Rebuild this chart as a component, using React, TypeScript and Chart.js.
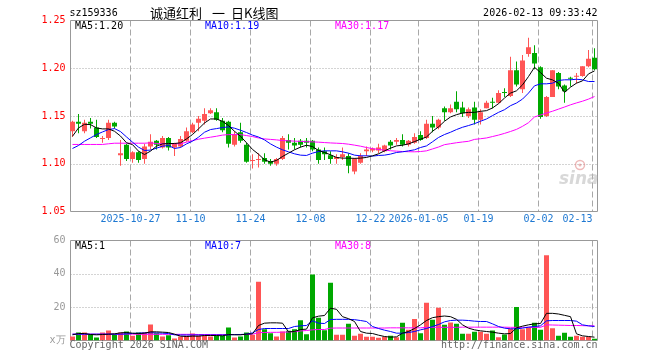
import { useEffect, useRef } from 'react';
import { Chart, registerables } from 'chart.js';

Chart.register(...registerables);

// ---- trading days shown (88 sessions) ----
const dates = [
  '2025-10-13', '2025-10-14', '2025-10-15', '2025-10-16', '2025-10-17',
  '2025-10-20', '2025-10-21', '2025-10-22', '2025-10-23', '2025-10-24',
  '2025-10-27', '2025-10-28', '2025-10-29', '2025-10-30', '2025-10-31',
  '2025-11-03', '2025-11-04', '2025-11-05', '2025-11-06', '2025-11-07',
  '2025-11-10', '2025-11-11', '2025-11-12', '2025-11-13', '2025-11-14',
  '2025-11-17', '2025-11-18', '2025-11-19', '2025-11-20', '2025-11-21',
  '2025-11-24', '2025-11-25', '2025-11-26', '2025-11-27', '2025-11-28',
  '2025-12-01', '2025-12-02', '2025-12-03', '2025-12-04', '2025-12-05',
  '2025-12-08', '2025-12-09', '2025-12-10', '2025-12-11', '2025-12-12',
  '2025-12-15', '2025-12-16', '2025-12-17', '2025-12-18', '2025-12-19',
  '2025-12-22', '2025-12-23', '2025-12-24', '2025-12-25', '2025-12-26',
  '2025-12-29', '2025-12-30', '2025-12-31',
  '2026-01-05', '2026-01-06', '2026-01-07', '2026-01-08', '2026-01-09',
  '2026-01-12', '2026-01-13', '2026-01-14', '2026-01-15', '2026-01-16',
  '2026-01-19', '2026-01-20', '2026-01-21', '2026-01-22', '2026-01-23',
  '2026-01-26', '2026-01-27', '2026-01-28', '2026-01-29', '2026-01-30',
  '2026-02-02', '2026-02-03', '2026-02-04', '2026-02-05', '2026-02-06',
  '2026-02-09', '2026-02-10', '2026-02-11', '2026-02-12', '2026-02-13',
];

// dates that carry an axis label and a dashed guide line
const axisDates = ['2025-10-27', '2025-11-10', '2025-11-24', '2025-12-08', '2025-12-22', '2026-01-05', '2026-01-19', '2026-02-02', '2026-02-13'];
const axisLabels = ['2025-10-27', '11-10', '11-24', '12-08', '12-22', '2026-01-05', '01-19', '02-02', '02-13'];

// ---- daily OHLC ----
const openP = [
  1.134, 1.144, 1.134, 1.144, 1.138, 1.126, 1.127, 1.143, 1.109, 1.120,
  1.105, 1.112, 1.105, 1.118, 1.124, 1.117, 1.127, 1.117, 1.118, 1.124,
  1.133, 1.143, 1.145, 1.153, 1.154, 1.145, 1.144, 1.120, 1.133, 1.120,
  1.103, 1.104, 1.106, 1.103, 1.100, 1.105, 1.125, 1.122, 1.124, 1.124,
  1.124, 1.115, 1.113, 1.109, 1.105, 1.107, 1.108, 1.092, 1.101, 1.113,
  1.114, 1.114, 1.113, 1.123, 1.123, 1.125, 1.120, 1.122, 1.130, 1.127,
  1.142, 1.138, 1.158, 1.154, 1.165, 1.159, 1.150, 1.159, 1.146, 1.158,
  1.165, 1.164, 1.175, 1.171, 1.198, 1.178, 1.215, 1.216, 1.201, 1.150,
  1.170, 1.195, 1.182, 1.190, 1.191, 1.192, 1.202, 1.211,
];
const highP = [
  1.145, 1.152, 1.146, 1.148, 1.146, 1.129, 1.146, 1.144, 1.125, 1.121,
  1.113, 1.113, 1.121, 1.131, 1.125, 1.129, 1.128, 1.122, 1.129, 1.138,
  1.143, 1.150, 1.158, 1.158, 1.158, 1.148, 1.145, 1.134, 1.143, 1.122,
  1.110, 1.111, 1.111, 1.105, 1.106, 1.129, 1.131, 1.127, 1.126, 1.127,
  1.125, 1.117, 1.117, 1.113, 1.110, 1.117, 1.111, 1.106, 1.111, 1.118,
  1.117, 1.121, 1.120, 1.125, 1.127, 1.131, 1.125, 1.132, 1.134, 1.146,
  1.150, 1.147, 1.160, 1.162, 1.176, 1.165, 1.159, 1.165, 1.157, 1.166,
  1.169, 1.177, 1.179, 1.212, 1.207, 1.214, 1.232, 1.224, 1.202, 1.171,
  1.198, 1.196, 1.183, 1.191, 1.195, 1.202, 1.219, 1.221,
];
const lowP = [
  1.128, 1.132, 1.132, 1.137, 1.127, 1.122, 1.125, 1.137, 1.098, 1.103,
  1.101, 1.101, 1.100, 1.115, 1.115, 1.116, 1.114, 1.108, 1.117, 1.123,
  1.132, 1.134, 1.141, 1.152, 1.145, 1.133, 1.117, 1.118, 1.122, 1.101,
  1.095, 1.096, 1.100, 1.098, 1.098, 1.104, 1.115, 1.115, 1.117, 1.117,
  1.113, 1.100, 1.104, 1.100, 1.100, 1.104, 1.090, 1.089, 1.100, 1.108,
  1.112, 1.111, 1.112, 1.115, 1.120, 1.118, 1.118, 1.121, 1.124, 1.126,
  1.133, 1.136, 1.145, 1.153, 1.154, 1.149, 1.148, 1.141, 1.141, 1.158,
  1.158, 1.163, 1.170, 1.170, 1.181, 1.174, 1.212, 1.199, 1.147, 1.149,
  1.170, 1.178, 1.164, 1.181, 1.184, 1.191, 1.201, 1.198,
];
const closeP = [
  1.144, 1.142, 1.143, 1.142, 1.128, 1.127, 1.143, 1.139, 1.111, 1.105,
  1.112, 1.104, 1.118, 1.123, 1.120, 1.127, 1.117, 1.121, 1.126, 1.134,
  1.141, 1.147, 1.152, 1.156, 1.146, 1.135, 1.121, 1.131, 1.124, 1.102,
  1.104, 1.105, 1.102, 1.100, 1.105, 1.127, 1.122, 1.119, 1.120, 1.122,
  1.115, 1.104, 1.110, 1.105, 1.107, 1.110, 1.098, 1.105, 1.108, 1.115,
  1.116, 1.117, 1.119, 1.119, 1.125, 1.120, 1.124, 1.128, 1.125, 1.142,
  1.138, 1.146, 1.154, 1.158, 1.157, 1.153, 1.157, 1.146, 1.154, 1.164,
  1.164, 1.174, 1.174, 1.198, 1.183, 1.208, 1.222, 1.205, 1.149, 1.170,
  1.198, 1.181, 1.176, 1.189, 1.192, 1.202, 1.210, 1.199,
];

// ---- price moving averages ----
const ma5 = [
  1.1288, 1.1375, 1.1413, 1.1410, 1.1375, 1.1365, 1.1365, 1.1340, 1.1290, 1.1220,
  1.1200, 1.1132, 1.1097, 1.1132, 1.1184, 1.1208, 1.1212, 1.1212, 1.1219, 1.1260,
  1.1306, 1.1365, 1.1427, 1.1469, 1.1469, 1.1444, 1.1400, 1.1340, 1.1288, 1.1220,
  1.1150, 1.1100, 1.1042, 1.1017, 1.1035, 1.1076, 1.1111, 1.1146, 1.1174, 1.1194,
  1.1180, 1.1139, 1.1118, 1.1094, 1.1066, 1.1059, 1.1059, 1.1056, 1.1059, 1.1066,
  1.1083, 1.1104, 1.1135, 1.1163, 1.1187, 1.1194, 1.1208, 1.1232, 1.1257, 1.1280,
  1.1340, 1.1386, 1.1445, 1.1490, 1.1514, 1.1531, 1.1538, 1.1538, 1.1549, 1.1556,
  1.1584, 1.1629, 1.1688, 1.1740, 1.1764, 1.1826, 1.1913, 1.2010, 1.1955, 1.1896,
  1.1878, 1.1844, 1.1747, 1.1802, 1.1844, 1.1868, 1.1941, 1.1972,
];
const ma10 = [
  1.1160, 1.1191, 1.1236, 1.1271, 1.1306, 1.1333, 1.1358, 1.1368, 1.1337, 1.1281,
  1.1226, 1.1174, 1.1139, 1.1143, 1.1163, 1.1184, 1.1191, 1.1160, 1.1170, 1.1208,
  1.1236, 1.1278, 1.1330, 1.1358, 1.1368, 1.1379, 1.1386, 1.1372, 1.1351, 1.1327,
  1.1300, 1.1280, 1.1250, 1.1208, 1.1174, 1.1146, 1.1125, 1.1104, 1.1090, 1.1087,
  1.1111, 1.1128, 1.1135, 1.1135, 1.1135, 1.1125, 1.1111, 1.1090, 1.1083, 1.1083,
  1.1080, 1.1087, 1.1090, 1.1101, 1.1118, 1.1125, 1.1135, 1.1146, 1.1170, 1.1187,
  1.1230, 1.1275, 1.1306, 1.1330, 1.1358, 1.1382, 1.1400, 1.1420, 1.1445, 1.1469,
  1.1504, 1.1538, 1.1566, 1.1608, 1.1636, 1.1677, 1.1740, 1.1816, 1.1837, 1.1837,
  1.1844, 1.1872, 1.1879, 1.1879, 1.1885, 1.1879, 1.1861, 1.1861,
];
const ma30 = [
  1.1202, 1.1202, 1.1202, 1.1202, 1.1202, 1.1202, 1.1209, 1.1215, 1.1215, 1.1215,
  1.1215, 1.1215, 1.1215, 1.1219, 1.1212, 1.1209, 1.1209, 1.1209, 1.1209, 1.1226,
  1.1243, 1.1257, 1.1268, 1.1278, 1.1288, 1.1300, 1.1305, 1.1305, 1.1305, 1.1295,
  1.1285, 1.1270, 1.1260, 1.1255, 1.1250, 1.1243, 1.1240, 1.1237, 1.1234, 1.1231,
  1.1229, 1.1226, 1.1222, 1.1218, 1.1215, 1.1212, 1.1205, 1.1195, 1.1184, 1.1170,
  1.1158, 1.1150, 1.1143, 1.1136, 1.1132, 1.1128, 1.1126, 1.1125, 1.1128, 1.1135,
  1.1155, 1.1175, 1.1200, 1.1210, 1.1220, 1.1228, 1.1235, 1.1255, 1.1262, 1.1270,
  1.1285, 1.1300, 1.1318, 1.1338, 1.1360, 1.1392, 1.1430, 1.1490, 1.1510, 1.1531,
  1.1550, 1.1572, 1.1594, 1.1617, 1.1637, 1.1655, 1.1677, 1.1704,
];

// ---- volume (x万) and its moving averages ----
const volume = [
  2.4, 4.8, 4.8, 3.8, 1.8, 4.8, 6.0, 3.8, 4.8, 5.4,
  2.8, 4.8, 4.8, 9.6, 4.4, 2.4, 3.2, 1.2, 2.4, 2.8,
  4.2, 2.8, 2.8, 2.4, 2.8, 2.8, 7.8, 1.8, 2.4, 4.8,
  3.4, 35.3, 6.8, 4.4, 2.4, 5.4, 5.8, 6.8, 12.2, 3.8,
  39.6, 13.7, 6.2, 34.7, 3.4, 3.4, 10.0, 2.8, 4.0, 2.2,
  2.2, 1.6, 2.2, 2.8, 2.0, 10.6, 6.4, 12.9, 4.4, 22.7,
  12.4, 19.7, 9.4, 10.8, 10.0, 4.0, 4.0, 5.2, 5.2, 4.0,
  6.0, 2.0, 3.6, 7.2, 20.1, 6.8, 8.0, 10.6, 6.4, 51.2,
  7.4, 2.8, 4.6, 2.2, 2.8, 2.2, 2.2, 1.0,
];
const volMa5 = [
  3.4, 4.2, 4.2, 3.6, 3.4, 3.6, 3.8, 4.0, 4.6, 4.8,
  4.4, 4.2, 4.4, 5.2, 5.2, 5.0, 4.8, 3.8, 2.6, 2.4,
  2.6, 2.6, 3.0, 3.0, 3.0, 2.8, 3.6, 3.4, 3.4, 3.8,
  4.0, 9.0, 10.4, 10.6, 10.6, 10.4, 5.2, 5.4, 6.6, 6.8,
  13.6, 14.6, 15.0, 19.4, 18.7, 14.3, 13.1, 11.4, 5.4, 4.4,
  4.2, 3.2, 2.4, 2.0, 2.2, 4.4, 5.4, 7.2, 9.4, 12.0,
  13.7, 14.3, 14.7, 14.3, 12.7, 9.4, 7.4, 6.4, 5.8, 5.4,
  5.0, 4.4, 4.0, 4.2, 7.6, 8.6, 9.4, 10.0, 10.2, 16.3,
  16.3, 15.9, 15.1, 14.3, 4.0, 2.8, 2.4, 2.0,
];
const volMa10 = [
  3.8, 3.8, 3.8, 3.8, 3.8, 3.8, 3.8, 3.8, 3.8, 4.0,
  4.2, 4.4, 4.6, 4.6, 4.6, 4.4, 4.2, 3.4, 3.3, 3.3,
  3.3, 3.3, 3.3, 3.3, 3.3, 3.3, 3.4, 3.6, 3.6, 3.8,
  4.6, 6.6, 7.2, 7.2, 7.2, 7.2, 7.2, 8.4, 8.8, 9.0,
  11.8, 10.4, 10.2, 12.6, 12.7, 12.7, 12.7, 12.5, 12.0, 11.4,
  8.4, 7.2, 6.2, 5.4, 4.4, 4.4, 4.8, 5.4, 6.4, 7.2,
  8.4, 9.6, 11.2, 12.0, 12.2, 12.2, 12.0, 11.6, 11.4, 11.4,
  10.0, 8.4, 7.4, 7.0, 7.0, 7.4, 8.0, 8.4, 8.8, 11.8,
  12.0, 12.0, 12.0, 12.0, 11.6, 9.4, 8.8, 8.4,
];
const volMa30 = [
  3.8, 3.8, 3.8, 3.8, 3.8, 3.8, 3.8, 3.8, 3.8, 3.8,
  3.8, 3.7, 3.7, 3.7, 3.7, 3.7, 3.7, 3.7, 3.7, 3.7,
  3.7, 3.6, 3.6, 3.6, 3.6, 3.6, 3.6, 3.6, 3.6, 3.6,
  3.8, 4.7, 4.8, 4.9, 4.9, 5.0, 5.1, 5.3, 5.7, 6.0,
  6.4, 6.6, 6.6, 7.4, 7.5, 7.5, 7.5, 7.5, 7.5, 7.5,
  7.5, 7.5, 7.5, 7.6, 7.6, 7.6, 7.6, 7.6, 7.6, 7.9,
  7.9, 7.9, 7.9, 7.9, 7.9, 8.0, 8.0, 8.0, 8.0, 8.0,
  8.0, 8.0, 8.0, 7.9, 7.9, 7.9, 7.9, 7.9, 7.9, 9.4,
  9.3, 9.2, 9.1, 9.0, 9.0, 8.9, 8.8, 8.8,
];

// ---- axis ticks ----
const priceTicks = [1.05, 1.1, 1.15, 1.2, 1.25];
const priceGridLines = [1.1, 1.15, 1.2];
const volumeTicks = [0, 20, 40, 60];
const volumeGridLines = [20, 40];
const volumeUnit = 'x万';

const UP = '#ff5555';
const DOWN = '#00a800';
const MONO = '"DejaVu Sans Mono", monospace';
const CJK = '"Noto Sans CJK SC", sans-serif';
const GRID = '#a8a8a8';
const FRAME = '#999999';

const candleColors = closeP.map((c, i) => (c >= openP[i] ? UP : DOWN));
const axisIndex = axisDates.map((d) => dates.indexOf(d));

function strokeLine(ctx: CanvasRenderingContext2D, x1: number, y1: number, x2: number, y2: number) {
  ctx.beginPath();
  ctx.moveTo(x1, y1);
  ctx.lineTo(x2, y2);
  ctx.stroke();
}

// dotted value lines, dashed date lines and the panel frame
function drawPanel(chart: any, hValues: number[]) {
  const { ctx, chartArea: a, scales } = chart;
  const left = Math.floor(a.left) + 1.5;
  const right = Math.floor(a.right) + 0.5;
  const top = Math.floor(a.top) + 0.5;
  const bottom = Math.floor(a.bottom) + 0.5;
  ctx.save();
  ctx.lineWidth = 1;
  ctx.strokeStyle = GRID;
  ctx.setLineDash([1, 2]);
  hValues.forEach((v) => {
    const y = Math.round(scales.y.getPixelForValue(v)) + 0.5;
    strokeLine(ctx, left, y, right, y);
  });
  ctx.setLineDash([6, 3]);
  axisIndex.forEach((idx) => {
    const x = Math.floor(scales.x.getPixelForValue(idx) - 2) + 0.5;
    strokeLine(ctx, x, top, x, bottom);
  });
  ctx.setLineDash([]);
  ctx.strokeStyle = FRAME;
  strokeLine(ctx, left, top, right, top);
  strokeLine(ctx, left, bottom, right, bottom);
  strokeLine(ctx, left, top, left, bottom);
  strokeLine(ctx, right, top, right, bottom);
  ctx.restore();
}

function text(ctx: CanvasRenderingContext2D, s: string, x: number, y: number, color: string, font: string, align: CanvasTextAlign = 'left') {
  ctx.font = font;
  ctx.fillStyle = color;
  ctx.textAlign = align;
  ctx.textBaseline = 'middle';
  ctx.fillText(s, x, y);
}

const pricePanel = {
  id: 'pricePanel',
  beforeDatasetsDraw(chart: any) {
    drawPanel(chart, priceGridLines);
    const { ctx } = chart;
    ctx.save();
    // sina watermark
    ctx.globalAlpha = 0.55;
    ctx.strokeStyle = '#e08080';
    ctx.lineWidth = 1.5;
    ctx.beginPath();
    ctx.arc(580, 165, 4.5, 0, Math.PI * 2);
    ctx.stroke();
    ctx.beginPath();
    ctx.arc(580, 165, 1.5, 0, Math.PI * 2);
    ctx.fillStyle = '#e08080';
    ctx.fill();
    ctx.font = 'italic bold 17px "DejaVu Sans", sans-serif';
    ctx.fillStyle = '#b8b8b8';
    ctx.textAlign = 'left';
    ctx.textBaseline = 'alphabetic';
    ctx.fillText('sina', 559, 184);
    ctx.restore();
  },
  afterDraw(chart: any) {
    const { ctx } = chart;
    ctx.save();
    const f = `10px ${MONO}`;
    text(ctx, 'sz159336', 69.5, 13, '#000', f);
    const cf = `13px ${CJK}`;
    text(ctx, '诚通红利', 150, 13, '#000', cf);
    text(ctx, '一', 212, 13, '#000', cf);
    text(ctx, '日K线图', 231, 13, '#000', cf);
    text(ctx, '2026-02-13 09:33:42', 597.5, 13, '#000', f, 'right');
    text(ctx, 'MA5:1.20', 75, 26.5, '#000000', f);
    text(ctx, 'MA10:1.19', 205, 26.5, '#0000ff', f);
    text(ctx, 'MA30:1.17', 335, 26.5, '#ff00ff', f);
    ctx.restore();
  },
};

const volumePanel = {
  id: 'volumePanel',
  beforeDatasetsDraw(chart: any) {
    drawPanel(chart, volumeGridLines);
  },
  afterDraw(chart: any) {
    const { ctx } = chart;
    ctx.save();
    const f = `10px ${MONO}`;
    text(ctx, 'MA5:1', 75, 16.7, '#000000', f);
    text(ctx, 'MA10:7', 205, 16.7, '#0000ff', f);
    text(ctx, 'MA30:8', 335, 16.7, '#ff00ff', f);
    text(ctx, 'Copyright 2026 SINA.COM', 69.5, 115, '#666', f);
    text(ctx, 'http://finance.sina.com.cn', 597.5, 115, '#666', f, 'right');
    ctx.restore();
  },
};

function maLine(data: number[], color: string, order: number) {
  return {
    type: 'line' as const,
    data,
    borderColor: color,
    borderWidth: 1,
    pointRadius: 0,
    pointHoverRadius: 0,
    tension: 0,
    fill: false,
    order,
  };
}

function dateTick(index: number) {
  const k = axisIndex.indexOf(index);
  if (k < 0) return '';
  // the final date sits against the right frame, so it hangs left of its line
  return k === axisLabels.length - 1 ? axisLabels[k] + '     ' : axisLabels[k];
}

export default function App() {
  const priceRef = useRef<HTMLCanvasElement>(null);
  const volRef = useRef<HTMLCanvasElement>(null);

  useEffect(() => {
    Chart.defaults.font.family = MONO;
    const priceChart = new Chart(priceRef.current!, {
      type: 'bar',
      data: {
        labels: dates,
        datasets: [
          {
            type: 'bar',
            data: dates.map((_, i) => [lowP[i], highP[i]]),
            backgroundColor: candleColors,
            barThickness: 1,
            grouped: false,
            inflateAmount: 0,
            order: 4,
          } as any,
          {
            type: 'bar',
            data: dates.map((_, i) => [openP[i], closeP[i]]),
            backgroundColor: candleColors,
            barThickness: 5,
            minBarLength: 1,
            grouped: false,
            inflateAmount: 0,
            order: 3,
          } as any,
          maLine(ma30, '#ff00ff', 2),
          maLine(ma10, '#0000ff', 1),
          maLine(ma5, '#000000', 0),
        ],
      },
      options: {
        responsive: false,
        animation: false,
        devicePixelRatio: 1,
        events: [],
        layout: { padding: { left: 0, right: 62.5, top: 20.5, bottom: 0 } },
        plugins: { legend: { display: false }, tooltip: { enabled: false } },
        scales: {
          x: {
            type: 'category',
            offset: true,
            grid: { display: false, drawTicks: false },
            border: { display: false },
            ticks: {
              autoSkip: false,
              maxRotation: 0,
              minRotation: 0,
              padding: 2,
              labelOffset: -2,
              color: '#1e78d2',
              font: { family: MONO, size: 10 },
              callback: (_v: any, i: number) => dateTick(i),
            },
            afterFit: (s: any) => {
              s.height = 20.5;
            },
          },
          y: {
            min: priceTicks[0],
            max: priceTicks[priceTicks.length - 1],
            grid: { display: false, drawTicks: false },
            border: { display: false },
            afterBuildTicks: (s: any) => {
              s.ticks = priceTicks.map((v) => ({ value: v }));
            },
            ticks: {
              padding: 4,
              color: '#ff0000',
              font: { family: MONO, size: 10 },
              callback: (v: any) => Number(v).toFixed(2),
            },
            afterFit: (s: any) => {
              s.width = 69.5;
            },
          },
        },
      } as any,
      plugins: [pricePanel],
    });

    const volChart = new Chart(volRef.current!, {
      type: 'bar',
      data: {
        labels: dates,
        datasets: [
          {
            type: 'bar',
            data: volume,
            backgroundColor: candleColors,
            barThickness: 5,
            grouped: false,
            inflateAmount: 0,
            order: 3,
          } as any,
          maLine(volMa30, '#ff00ff', 2),
          maLine(volMa10, '#0000ff', 1),
          maLine(volMa5, '#000000', 0),
        ],
      },
      options: {
        responsive: false,
        animation: false,
        devicePixelRatio: 1,
        events: [],
        layout: { padding: { left: 0, right: 62.5, top: 10.5, bottom: 19.5 } },
        plugins: { legend: { display: false }, tooltip: { enabled: false } },
        scales: {
          x: { type: 'category', offset: true, display: false },
          y: {
            min: volumeTicks[0],
            max: volumeTicks[volumeTicks.length - 1],
            grid: { display: false, drawTicks: false },
            border: { display: false },
            afterBuildTicks: (s: any) => {
              s.ticks = volumeTicks.map((v) => ({ value: v }));
            },
            ticks: {
              padding: 4,
              color: '#999999',
              font: { family: MONO, size: 10 },
              callback: (v: any) => (Number(v) === 0 ? volumeUnit : String(v)),
            },
            afterFit: (s: any) => {
              s.width = 69.5;
            },
          },
        },
      } as any,
      plugins: [volumePanel],
    });

    return () => {
      priceChart.destroy();
      volChart.destroy();
    };
  }, []);

  return (
    <div style={{ position: 'fixed', left: 0, top: 0, width: 660, height: 360, background: '#fff', overflow: 'hidden' }}>
      <canvas ref={priceRef} width={660} height={232} style={{ position: 'absolute', left: 0, top: 0, width: 660, height: 232 }} />
      <canvas ref={volRef} width={660} height={130} style={{ position: 'absolute', left: 0, top: 230, width: 660, height: 130 }} />
    </div>
  );
}
